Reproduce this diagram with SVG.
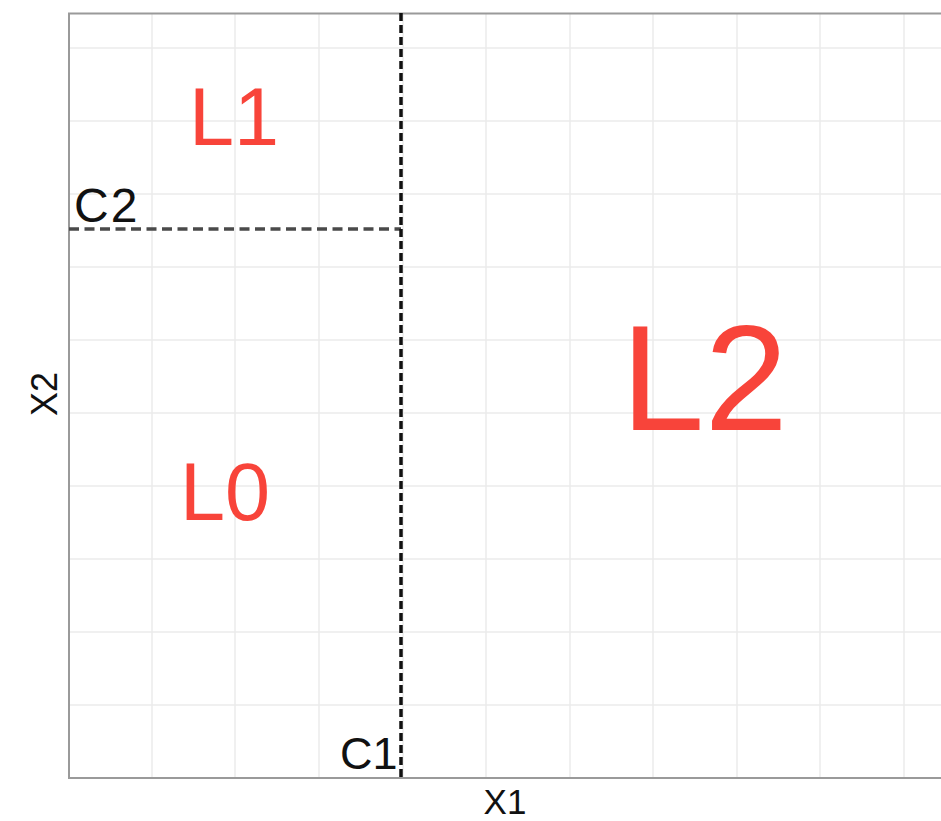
<svg xmlns="http://www.w3.org/2000/svg" width="941" height="821" viewBox="0 0 941 821">
<style>
.grid line{stroke:#ebebeb;stroke-width:1.5}
.frame{fill:none;stroke:#9a9a9a;stroke-width:2}
.lab{font-family:"Liberation Sans",Arial,sans-serif;fill:#111}
.leaf{font-family:"Liberation Sans",Arial,sans-serif;fill:#f8443a}
</style>
<rect width="941" height="821" fill="#fff"/>
<g id="grid" class="grid">
<line x1="69" y1="48" x2="941" y2="48"/>
<line x1="69" y1="121" x2="941" y2="121"/>
<line x1="69" y1="194" x2="941" y2="194"/>
<line x1="69" y1="267" x2="941" y2="267"/>
<line x1="69" y1="340" x2="941" y2="340"/>
<line x1="69" y1="413" x2="941" y2="413"/>
<line x1="69" y1="486" x2="941" y2="486"/>
<line x1="69" y1="559" x2="941" y2="559"/>
<line x1="69" y1="632" x2="941" y2="632"/>
<line x1="69" y1="705" x2="941" y2="705"/>
<line x1="152" y1="13" x2="152" y2="778"/>
<line x1="235" y1="13" x2="235" y2="778"/>
<line x1="319" y1="13" x2="319" y2="778"/>
<line x1="403" y1="13" x2="403" y2="778"/>
<line x1="486" y1="13" x2="486" y2="778"/>
<line x1="570" y1="13" x2="570" y2="778"/>
<line x1="653" y1="13" x2="653" y2="778"/>
<line x1="737" y1="13" x2="737" y2="778"/>
<line x1="820" y1="13" x2="820" y2="778"/>
<line x1="904" y1="13" x2="904" y2="778"/>
</g>
<path class="frame" d="M942 13.5 H69 V778 H942"/>
<g id="connectors">
<line x1="69" y1="229" x2="401" y2="229" stroke="#4a4a4a" stroke-width="3.5" stroke-dasharray="10 5.5"/>
<line x1="401" y1="13" x2="401" y2="778" stroke="#111" stroke-width="3.5" stroke-dasharray="8 4"/>
</g>
<g id="L1"><text class="leaf" x="189" y="145" font-size="81">L1</text></g>
<g id="L0"><text class="leaf" x="180" y="520" font-size="81">L0</text></g>
<g id="L2"><text class="leaf" x="621" y="430" font-size="150">L2</text></g>
<g id="C2"><text class="lab" x="74" y="222" font-size="48" letter-spacing="2">C2</text></g>
<g id="C1"><text class="lab" x="340" y="769" font-size="45">C1</text></g>
<g id="axes">
<text class="lab" x="505" y="814" font-size="35" text-anchor="middle">X1</text>
<text class="lab" transform="translate(57,394) rotate(-90)" font-size="36" text-anchor="middle">X2</text>
</g>
</svg>
